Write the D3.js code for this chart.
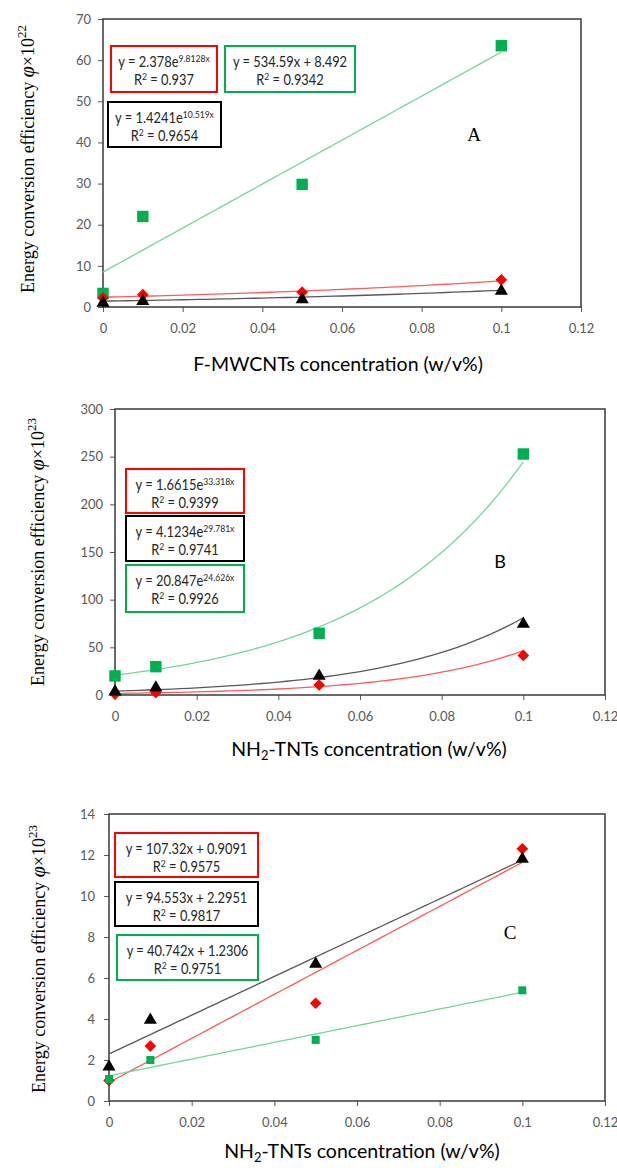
<!DOCTYPE html>
<html lang="en">
  <head>
    <meta charset="UTF-8" />
    <title>energy conversion efficiency</title>
    <script src="https://cdn.jsdelivr.net/npm/d3@7"></script>
    <style>
      body { margin: 0; background: #fff; }
      svg text { font-family: Lato, "Open Sans", sans-serif; }
    </style>
  </head>
  <body>
    <svg width="617" height="1168"></svg>
  </body>

  <script>
    // concentration (w/v%) shared by all three panels
    var concentration = [0, 0.01, 0.05, 0.1];
    var xTicks = [0, 0.02, 0.04, 0.06, 0.08, 0.1, 0.12];

    // panel A : F-MWCNTs, phi x 10^22
    var aYTicks = [0, 10, 20, 30, 40, 50, 60, 70];
    var aGreen = [3.3, 22, 29.8, 63.5];
    var aRed = [2.2, 3.0, 3.6, 6.6];
    var aBlack = [1.0, 1.4, 1.8, 3.9];
    // trendline coefficients : exp -> a*e^(b*x), lin -> a*x + b, then R^2
    var aFitRed = ['exp', 2.378, 9.8128, '0.937'];
    var aFitBlack = ['exp', 1.4241, 10.519, '0.9654'];
    var aFitGreen = ['lin', 534.59, 8.492, '0.9342'];

    // panel B : NH2-TNTs, phi x 10^23
    var bYTicks = [0, 50, 100, 150, 200, 250, 300];
    var bGreen = [20, 29.7, 64.7, 252.8];
    var bRed = [1.0, 2.5, 10.5, 41.5];
    var bBlack = [3.5, 7.5, 20, 74.5];
    var bFitRed = ['exp', 1.6615, 33.318, '0.9399'];
    var bFitBlack = ['exp', 4.1234, 29.781, '0.9741'];
    var bFitGreen = ['exp', 20.847, 24.626, '0.9926'];

    // panel C : NH2-TNTs, phi x 10^23
    var cYTicks = [0, 2, 4, 6, 8, 10, 12, 14];
    var cGreen = [1.07, 2.0, 2.98, 5.4];
    var cRed = [1.0, 2.68, 4.77, 12.3];
    var cBlack = [1.67, 3.95, 6.68, 11.8];
    var cFitRed = ['lin', 107.32, 0.9091, '0.9575'];
    var cFitBlack = ['lin', 94.553, 2.2951, '0.9817'];
    var cFitGreen = ['lin', 40.742, 1.2306, '0.9751'];

    var GREEN = '#00b050', RED = '#ff0000', BLACK = '#000000';
    var svg = d3.select('svg');

    function fitValue(fit, x) {
      return fit[0] === 'exp' ? fit[1] * Math.exp(fit[2] * x) : fit[1] * x + fit[2];
    }

    function drawPanel(p) {
      var x = d3.scaleLinear().domain([0, 0.12]).range([p.left, p.right]);
      var y = d3.scaleLinear().domain([0, d3.max(p.yTicks)]).range([p.bottom, p.top]);
      var g = svg.append('g');

      // axes
      var ax = g.append('g')
        .attr('transform', 'translate(0,' + p.bottom + ')')
        .call(d3.axisBottom(x).tickValues(xTicks).tickSizeInner(5).tickSizeOuter(0)
          .tickPadding(12).tickFormat(d3.format('~g')));
      var ay = g.append('g')
        .attr('transform', 'translate(' + p.left + ',0)')
        .call(d3.axisLeft(y).tickValues(p.yTicks).tickSizeInner(5).tickSizeOuter(0)
          .tickPadding(p.yPad));
      [ax, ay].forEach(function (a) {
        a.selectAll('.domain').remove();
        a.selectAll('line').attr('stroke', '#595959');
        a.selectAll('text').attr('fill', '#595959').style('font-size', '13px');
      });

      // frame
      g.append('rect')
        .attr('x', p.left).attr('y', p.top)
        .attr('width', p.right - p.left).attr('height', p.bottom - p.top)
        .attr('fill', 'none').attr('stroke', '#3a3a3a').attr('stroke-width', 1.5);

      // trendlines
      var line = d3.line().x(function (d) { return x(d); });
      var xs = d3.range(0, 0.1001, 0.002);
      p.series.forEach(function (s) {
        g.append('path')
          .datum(xs)
          .attr('d', line.y(function (d) { return y(fitValue(s.fit, d)); }))
          .attr('fill', 'none')
          .attr('stroke', s.lineColor)
          .attr('stroke-width', 1.3);
      });

      // markers
      p.series.forEach(function (s) {
        g.selectAll(null).data(s.values).enter().append('path')
          .attr('transform', function (d, i) {
            return 'translate(' + x(concentration[i]) + ',' + y(d) + ')' + (s.rotate ? ' rotate(45)' : '');
          })
          .attr('d', d3.symbol().type(s.symbol).size(s.size))
          .attr('fill', s.color);
      });

      // fit label boxes (text squeezed a little, the original uses a narrow face)
      p.series.forEach(function (s) {
        var b = s.box;
        g.append('rect')
          .attr('x', b[0]).attr('y', b[1]).attr('width', b[2]).attr('height', b[3])
          .attr('fill', '#fff').attr('stroke', s.color).attr('stroke-width', 2);
        var cx = b[0] + b[2] / 2;
        var t1 = g.append('text')
          .attr('transform', 'translate(' + cx + ',' + (b[1] + 21) + ') scale(0.86,1)')
          .attr('text-anchor', 'middle')
          .style('font-size', '15px').attr('fill', '#262626');
        if (s.fit[0] === 'exp') {
          t1.append('tspan').text('y = ' + s.fit[1] + 'e');
          t1.append('tspan').attr('dy', -5).style('font-size', '10px').text(s.fit[2] + 'x');
        } else {
          t1.append('tspan').text('y = ' + s.fit[1] + 'x + ' + s.fit[2]);
        }
        var t2 = g.append('text')
          .attr('transform', 'translate(' + cx + ',' + (b[1] + 39) + ') scale(0.86,1)')
          .attr('text-anchor', 'middle')
          .style('font-size', '15px').attr('fill', '#262626');
        t2.append('tspan').text('R');
        t2.append('tspan').attr('dy', -5).style('font-size', '10px').text('2');
        t2.append('tspan').attr('dy', 5).text(' = ' + s.fit[3]);
      });

      // panel letter
      g.append('text')
        .attr('x', p.letter[0]).attr('y', p.letter[1])
        .attr('text-anchor', 'middle')
        .style('font-family', p.letterSerif ? '"Liberation Serif", serif' : 'Lato, sans-serif')
        .style('font-size', p.letterSerif ? '19px' : '18px')
        .attr('fill', '#000')
        .text(p.name);

      // x title
      var xt = g.append('text')
        .attr('x', (p.left + p.right) / 2 + p.titleShift).attr('y', p.titleY)
        .attr('text-anchor', 'middle')
        .style('font-size', '19.5px').attr('fill', '#000');
      if (p.nh2) {
        xt.append('tspan').text('NH');
        xt.append('tspan').attr('dy', 4).style('font-size', '13px').text('2');
        xt.append('tspan').attr('dy', -4).text('-TNTs concentration (w/v%)');
      } else {
        xt.text('F-MWCNTs concentration (w/v%)');
      }

      // y title
      var yt = g.append('text')
        .attr('transform', 'translate(' + p.yLabel[0] + ',' + p.yLabel[1] + ') rotate(-90)')
        .attr('text-anchor', 'middle')
        .style('font-family', '"Liberation Serif", serif')
        .style('font-size', '18px').attr('fill', '#000');
      yt.append('tspan').text('Energy conversion efficiency ');
      yt.append('tspan').style('font-style', 'italic').style('font-size', '20px').text('\u03c6');
      yt.append('tspan').text('\u00d710');
      yt.append('tspan').attr('dy', -8).style('font-size', '13px').text(p.exponent);
    }

    function makeSeries(green, red, black, fg, fr, fb, boxes, order, sq) {
      var all = {
        green: { values: green, fit: fg, color: GREEN, lineColor: '#74d69a', symbol: d3.symbolSquare, size: sq, box: boxes.green },
        red: { values: red, fit: fr, color: RED, lineColor: '#ff5a5a', symbol: d3.symbolSquare, size: 68, rotate: true, box: boxes.red },
        black: { values: black, fit: fb, color: BLACK, lineColor: '#595959', symbol: d3.symbolTriangle, size: 74, box: boxes.black }
      };
      return order.map(function (k) { return all[k]; });
    }

    drawPanel({
      name: 'A', letter: [474, 141], letterSerif: true,
      left: 103, right: 581, top: 19, bottom: 307, yTicks: aYTicks, yPad: 7,
      titleY: 371, titleShift: -4, yLabel: [34, 159], exponent: '22',
      series: makeSeries(aGreen, aRed, aBlack, aFitGreen, aFitRed, aFitBlack,
        { red: [111, 46, 106, 46], green: [225, 46, 130, 46], black: [108, 102, 113, 45] },
        ['green', 'red', 'black'], 130)
    });

    drawPanel({
      name: 'B', letter: [500, 568], letterSerif: false,
      left: 115, right: 605, top: 409, bottom: 695, yTicks: bYTicks, yPad: 7,
      titleY: 756, titleShift: 9, yLabel: [44, 552], exponent: '23', nh2: true,
      series: makeSeries(bGreen, bRed, bBlack, bFitGreen, bFitRed, bFitBlack,
        { red: [126, 469, 118, 44], black: [126, 516, 118, 45], green: [126, 565, 118, 47] },
        ['green', 'red', 'black'], 130)
    });

    drawPanel({
      name: 'C', letter: [510, 939], letterSerif: true,
      left: 109, right: 605, top: 814, bottom: 1101, yTicks: cYTicks, yPad: 9,
      titleY: 1158, titleShift: 5, yLabel: [45, 959], exponent: '23', nh2: true,
      series: makeSeries(cGreen, cRed, cBlack, cFitGreen, cFitRed, cFitBlack,
        { red: [115, 833, 143, 44], black: [115, 882, 143, 44], green: [117, 935, 141, 45] },
        ['red', 'black', 'green'], 64)
    });
  </script>
</html>
